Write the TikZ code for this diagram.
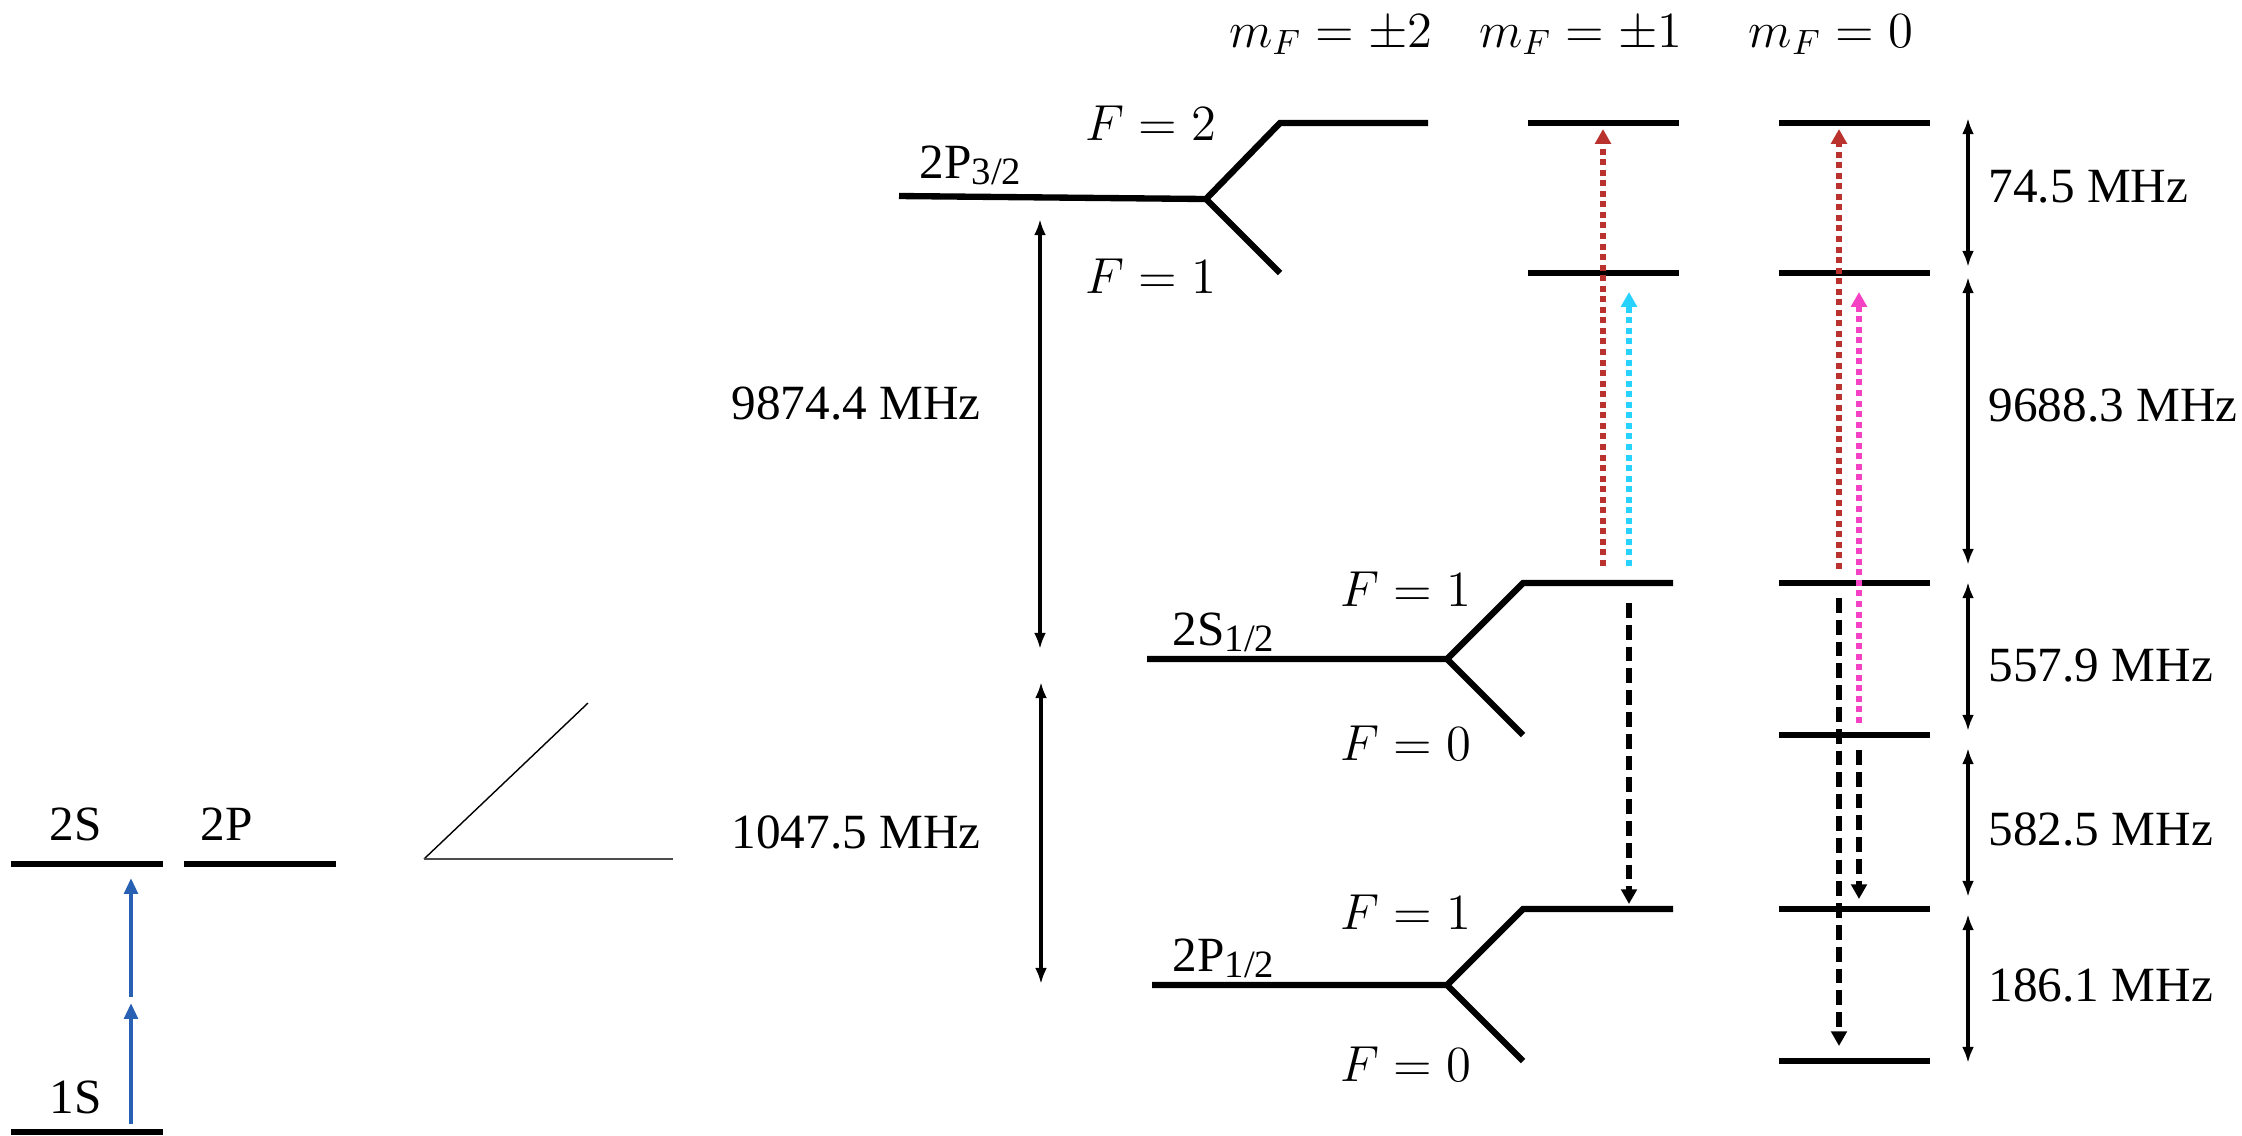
\documentclass[tikz,border=0pt]{standalone}
\usepackage{fontspec}
\setmainfont{Liberation Serif}
\usetikzlibrary{arrows.meta}
\definecolor{tred}{RGB}{185,50,45}
\definecolor{tcyan}{RGB}{40,210,255}
\definecolor{tpink}{RGB}{245,65,195}
\definecolor{tblue}{RGB}{40,96,180}
\begin{document}
\begin{tikzpicture}[x=0.01cm,y=-0.01cm,
  lvl/.style={line width=1.8pt,line join=miter},
  dim/.style={line width=1.1pt,{Latex[length=4.6pt,width=3.4pt]}-{Latex[length=4.6pt,width=3.4pt]}},
  txt/.style={font=\fontsize{14pt}{16pt}\selectfont,inner sep=0pt},
  excite/.style={line width=1.5pt,dash pattern=on 1.7pt off 1.3pt,-{Triangle[length=4.2pt,width=4.4pt]}},
  decay/.style={black,line width=1.5pt,dash pattern=on 4.2pt off 2pt,-{Triangle[length=4.2pt,width=4.4pt]}},
  pump/.style={tblue,line width=1.2pt,-{Triangle[length=4.5pt,width=3.8pt]}},
  thinline/.style={line width=0.4pt}]
\useasboundingbox (0,0) rectangle (2242,1135);

% ---------- left: 1S, 2S, 2P ----------
\coordinate (sa) at (11,864);  \coordinate (sb) at (163,864);
\coordinate (pa) at (184,864); \coordinate (pb) at (336,864);
\coordinate (ga) at (11,1132); \coordinate (gb) at (163,1132);
\draw[lvl] (sa) -- (sb);
\draw[lvl] (pa) -- (pb);
\draw[lvl] (ga) -- (gb);
\node[txt,anchor=base west] (l2S) at (49,840) {2S};
\node[txt,anchor=base west] (l2P) at (200,840) {2P};
\node[txt,anchor=base west] (l1S) at (49,1113) {1S};
\coordinate (b1) at (131,1124); \coordinate (b2) at (131,1003);
\coordinate (b3) at (131,997);  \coordinate (b4) at (131,878);
\draw[pump] (b1) -- (b2);
\draw[pump] (b3) -- (b4);

% zoom wedge
\coordinate (wa) at (588,703); \coordinate (wb) at (424,859); \coordinate (wc) at (673,859);
\draw[thinline] (wa) -- (wb);
\draw[line width=0.6pt,black!70] (wb) -- (wc);

% ---------- 2P3/2 ----------
\coordinate (q0) at (899,196); \coordinate (qs) at (1206,199);
\coordinate (qu) at (1280,123); \coordinate (qd) at (1280,273);
\coordinate (qe) at (1428,123);
\draw[lvl] (q0) -- (qs) -- (qu) -- (qe);
\draw[lvl] (qs) -- (qd);
\node[txt,anchor=base west] (l2P32) at (919,178) {2P{\fontsize{11pt}{12pt}\selectfont\raisebox{-0.35ex}{3/2}}};
\node[txt] (lF2) at (1151,123) {$F=2$};
\node[txt] (lF1a) at (1151,276) {$F=1$};

% ---------- 2S1/2 ----------
\coordinate (s0) at (1147,659); \coordinate (ss) at (1447,659);
\coordinate (su) at (1523,583); \coordinate (sd) at (1523,735);
\coordinate (se) at (1673,583);
\draw[lvl] (s0) -- (ss) -- (su) -- (se);
\draw[lvl] (ss) -- (sd);
\node[txt,anchor=base west] (l2S12) at (1172,645) {2S{\fontsize{11pt}{12pt}\selectfont\raisebox{-0.35ex}{1/2}}};
\node[txt] (lF1b) at (1406,589) {$F=1$};
\node[txt] (lF0b) at (1406,743) {$F=0$};

% ---------- 2P1/2 ----------
\coordinate (r0) at (1152,985); \coordinate (rs) at (1447,985);
\coordinate (ru) at (1523,909); \coordinate (rd) at (1523,1061);
\coordinate (re) at (1673,909);
\draw[lvl] (r0) -- (rs) -- (ru) -- (re);
\draw[lvl] (rs) -- (rd);
\node[txt,anchor=base west] (l2P12) at (1172,971) {2P{\fontsize{11pt}{12pt}\selectfont\raisebox{-0.35ex}{1/2}}};
\node[txt] (lF1c) at (1406,912) {$F=1$};
\node[txt] (lF0c) at (1406,1064) {$F=0$};

% ---------- m_F = +-1 column ----------
\draw[lvl] (1528,123) coordinate (a2l) -- (1679,123) coordinate (a2r);
\draw[lvl] (1528,273) coordinate (a1l) -- (1679,273) coordinate (a1r);

% ---------- m_F = 0 column ----------
\draw[lvl] (1779,123) coordinate (z1l) -- (1930,123) coordinate (z1r);
\draw[lvl] (1779,273) coordinate (z2l) -- (1930,273) coordinate (z2r);
\draw[lvl] (1779,583) coordinate (z3l) -- (1930,583) coordinate (z3r);
\draw[lvl] (1779,735) coordinate (z4l) -- (1930,735) coordinate (z4r);
\draw[lvl] (1779,909) coordinate (z5l) -- (1930,909) coordinate (z5r);
\draw[lvl] (1779,1061) coordinate (z6l) -- (1930,1061) coordinate (z6r);

% column headers
\node[txt,anchor=base] (mF2) at (1331,47) {$m_F=\pm2$};
\node[txt,anchor=base] (mF1) at (1581,47) {$m_F=\pm1$};
\node[txt,anchor=base] (mF0) at (1831,47) {$m_F=0$};

% ---------- transitions ----------
\coordinate (t1a) at (1603,566); \coordinate (t1b) at (1603,129);
\coordinate (t2a) at (1629,566); \coordinate (t2b) at (1629,292);
\coordinate (t3a) at (1839,569); \coordinate (t3b) at (1839,129);
\coordinate (t4a) at (1859,723); \coordinate (t4b) at (1859,292);
\draw[excite,tred] (t1a) -- (t1b);
\draw[excite,tcyan] (t2a) -- (t2b);
\draw[excite,tred] (t3a) -- (t3b);
\draw[excite,tpink] (t4a) -- (t4b);
\coordinate (d1a) at (1629,603); \coordinate (d1b) at (1629,904);
\coordinate (d2a) at (1839,598); \coordinate (d2b) at (1839,1046);
\coordinate (d3a) at (1859,750); \coordinate (d3b) at (1859,899);
\draw[decay] (d1a) -- (d1b);
\draw[decay] (d2a) -- (d2b);
\draw[decay] (d3a) -- (d3b);

% ---------- spacing arrows ----------
\coordinate (la1) at (1040,219); \coordinate (la2) at (1040,649);
\coordinate (lb1) at (1041,682); \coordinate (lb2) at (1041,984);
\draw[dim] (la1) -- (la2);
\draw[dim] (lb1) -- (lb2);
\node[txt,anchor=west] (v1) at (731,403) {9874.4 MHz};
\node[txt,anchor=west] (v2) at (731,832) {1047.5 MHz};

\coordinate (ra1) at (1968,118); \coordinate (ra2) at (1968,267);
\coordinate (rb1) at (1968,277); \coordinate (rb2) at (1968,565);
\coordinate (rc1) at (1968,582); \coordinate (rc2) at (1968,731);
\coordinate (rd1) at (1968,748); \coordinate (rd2) at (1968,897);
\coordinate (re1) at (1968,914); \coordinate (re2) at (1968,1063);
\draw[dim] (ra1) -- (ra2);
\draw[dim] (rb1) -- (rb2);
\draw[dim] (rc1) -- (rc2);
\draw[dim] (rd1) -- (rd2);
\draw[dim] (re1) -- (re2);
\node[txt,anchor=west] (w1) at (1988,187) {74.5 MHz};
\node[txt,anchor=west] (w2) at (1988,405) {9688.3 MHz};
\node[txt,anchor=west] (w3) at (1988,666) {557.9 MHz};
\node[txt,anchor=west] (w4) at (1988,829) {582.5 MHz};
\node[txt,anchor=west] (w5) at (1988,985) {186.1 MHz};
\end{tikzpicture}
\end{document}
